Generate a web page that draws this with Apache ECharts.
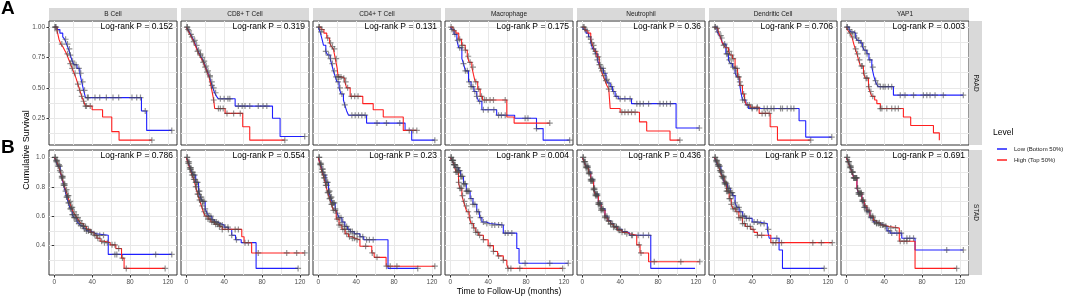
<!DOCTYPE html>
<html>
<head>
<meta charset="utf-8">
<script src="https://cdn.jsdelivr.net/npm/echarts@6/dist/echarts.min.js"></script>
<style>
  html, body { margin: 0; padding: 0; background: #fff; }
  #km { width: 1072px; height: 300px; }
</style>
</head>
<body>
<div id="km"></div>
<script>
// panel labels and p values
var cells = ['B Cell', 'CD8+ T Cell', 'CD4+ T Cell', 'Macrophage', 'Neutrophil', 'Dendritic Cell', 'YAP1'];
var paadP = ['0.152', '0.319', '0.131', '0.175', '0.36', '0.706', '0.003'];
var stadP = ['0.786', '0.554', '0.23', '0.004', '0.436', '0.12', '0.691'];
var levels = ['Low (Bottom 50%)', 'High (Top 50%)'];
var paadTicks = [0.25, 0.5, 0.75, 1];
var stadTicks = [0.4, 0.6, 0.8, 1];
var timeTicks = [0, 40, 80, 120];

// survival steps [months, survival], one curve per panel
var paadLow = [
  [[0,1],[3,0.98],[6,0.95],[9,0.92],[11,0.9],[13,0.86],[15,0.82],[17,0.77],[19,0.72],[21,0.69],[24,0.66],[27,0.62],[29,0.55],[31,0.48],[33,0.42],[92,0.31],[97.5,0.15],[124,0.15]],
  [[0,1],[2,0.98],[4,0.95],[6,0.92],[8,0.89],[10,0.85],[12,0.81],[14,0.78],[16,0.75],[18,0.72],[20,0.68],[22,0.64],[24,0.6],[26,0.55],[28,0.5],[30,0.46],[32,0.43],[34,0.41],[51.6,0.35],[91,0.25],[99,0.1],[125,0.1]],
  [[0,1],[2,0.96],[4,0.9],[5.6,0.85],[8,0.8],[10,0.77],[12.6,0.74],[14,0.7],[16,0.64],[18,0.59],[19.7,0.55],[22,0.5],[24,0.45],[26.6,0.4],[28,0.36],[30,0.31],[32,0.275],[51,0.21],[91.6,0.15],[98.6,0.07],[123,0.07]],
  [[0,1],[1.7,0.98],[4,0.94],[7,0.89],[9,0.83],[12.3,0.74],[14,0.7],[16,0.64],[19.3,0.55],[22,0.51],[25,0.47],[28,0.43],[30,0.39],[33.4,0.32],[49,0.275],[68,0.25],[91,0.165],[98,0.07],[126,0.07]],
  [[0,1],[1.4,0.98],[4,0.95],[6.6,0.92],[9,0.87],[11,0.82],[13.7,0.78],[16,0.73],[18,0.69],[20,0.66],[22.4,0.62],[25,0.57],[27,0.54],[29.5,0.51],[32,0.47],[34.7,0.43],[38,0.41],[52,0.37],[99,0.17],[123.5,0.17]],
  [[0,1],[3,0.96],[5,0.94],[7,0.91],[9,0.86],[12.3,0.78],[15,0.73],[17,0.7],[19.3,0.67],[22,0.62],[24,0.59],[26.3,0.55],[28,0.47],[29.8,0.4],[33.4,0.36],[36,0.33],[89.5,0.23],[96.5,0.095],[124,0.095]],
  [[0,1],[3,0.98],[5,0.96],[7.7,0.95],[10,0.91],[12,0.89],[14.7,0.87],[17,0.84],[19,0.81],[21.8,0.78],[24,0.73],[27,0.67],[29,0.6],[30.5,0.56],[32,0.53],[34,0.51],[49.8,0.44],[123.5,0.44]]
];
var paadHigh = [
  [[0,1],[3,0.97],[5,0.9],[7,0.86],[9,0.84],[11,0.81],[13,0.78],[15,0.74],[17,0.7],[19,0.66],[21,0.62],[23,0.58],[25,0.53],[27,0.48],[29,0.43],[31,0.39],[33,0.35],[40,0.32],[51,0.26],[60.7,0.14],[68.4,0.07],[103,0.07]],
  [[0,1],[2,0.97],[4,0.94],[6,0.91],[8,0.88],[10,0.84],[12,0.8],[14,0.77],[16,0.74],[18,0.71],[20,0.67],[22,0.63],[24,0.59],[26,0.52],[28,0.44],[29,0.4],[30,0.33],[41,0.29],[59.6,0.18],[67,0.07],[104,0.07]],
  [[0,1],[3,0.98],[6,0.95],[9,0.91],[12,0.87],[14,0.84],[16,0.82],[18,0.74],[20,0.66],[21,0.59],[25,0.58],[28,0.55],[30,0.5],[33.7,0.43],[47,0.37],[58,0.32],[68.6,0.26],[89.7,0.15],[104,0.15]],
  [[0,1],[3,0.97],[6,0.95],[9,0.9],[12,0.85],[15.8,0.81],[18,0.76],[20,0.71],[22.8,0.67],[24.5,0.61],[26.3,0.55],[29,0.49],[31.6,0.43],[34,0.4],[59.7,0.26],[67.4,0.21],[105,0.21]],
  [[0,1],[3,0.97],[6,0.95],[9,0.9],[11,0.85],[13,0.8],[15.4,0.755],[18,0.69],[20,0.64],[22,0.6],[24,0.56],[26,0.52],[28,0.49],[29.5,0.33],[40,0.3],[60.4,0.22],[68,0.145],[92.6,0.07],[103,0.07]],
  [[0,1],[2,0.99],[4,0.97],[6,0.93],[8,0.88],[10,0.85],[12,0.83],[15,0.8],[17,0.77],[19.3,0.74],[22,0.66],[24.6,0.59],[27,0.52],[29.8,0.45],[32,0.4],[34,0.36],[38,0.34],[47.4,0.29],[59,0.18],[66.7,0.07],[101.8,0.07]],
  [[0,1],[2,0.97],[4,0.95],[6,0.92],[8,0.86],[9.5,0.82],[11.3,0.78],[13,0.73],[15,0.68],[18.2,0.62],[20,0.58],[23.5,0.51],[25,0.47],[27,0.43],[30,0.4],[32.3,0.37],[36,0.33],[60.3,0.26],[68,0.19],[92,0.13],[98.2,0.07]]
];
var stadLow = [
  [[0,1],[2,0.97],[4,0.94],[6.3,0.9],[8,0.86],[10,0.81],[11.6,0.77],[13,0.73],[15,0.69],[16.8,0.65],[19,0.61],[21,0.59],[23.9,0.565],[26,0.55],[28,0.535],[30.9,0.515],[34,0.5],[38,0.49],[41.4,0.48],[44,0.47],[57,0.34],[124,0.34]],
  [[0,1],[2,0.97],[4,0.93],[6,0.9],[7.7,0.88],[10,0.83],[13,0.77],[15,0.73],[17,0.7],[20,0.65],[22,0.62],[24,0.6],[27,0.575],[30,0.56],[33,0.55],[35.8,0.54],[40,0.525],[44.5,0.51],[48,0.47],[52,0.44],[58,0.42],[73.7,0.245],[118,0.245]],
  [[0,1],[2,0.96],[4,0.92],[5.6,0.88],[8,0.83],[10.9,0.77],[13,0.73],[15,0.69],[17.9,0.65],[20,0.62],[22,0.59],[25,0.56],[28,0.53],[31,0.51],[33.7,0.495],[38,0.48],[44,0.46],[48,0.44],[73.6,0.245],[105,0.245]],
  [[0,1],[2,0.98],[4,0.95],[6,0.93],[8.8,0.91],[11,0.87],[14,0.82],[17,0.77],[21,0.72],[24,0.68],[28,0.63],[31,0.59],[33.4,0.56],[38,0.55],[42,0.54],[56,0.485],[70.2,0.38],[72.6,0.28],[124.5,0.28]],
  [[0,1],[2,0.97],[4,0.94],[6.7,0.9],[9,0.85],[12,0.79],[14,0.75],[17,0.69],[20,0.65],[24,0.6],[27,0.57],[30,0.55],[33,0.53],[37,0.51],[42,0.495],[47,0.485],[50,0.47],[72.3,0.245],[119,0.245]],
  [[0,1],[2,0.97],[4,0.94],[7,0.9],[9,0.86],[11,0.82],[14,0.79],[17,0.76],[19.3,0.74],[22,0.69],[24,0.66],[26.3,0.63],[30,0.6],[33.4,0.585],[40,0.56],[46,0.55],[56,0.51],[58,0.45],[68.4,0.37],[72,0.245],[116,0.245]],
  [[0,1],[2,0.97],[4,0.94],[6,0.9],[8,0.86],[11.3,0.79],[13,0.75],[16.5,0.7],[19,0.66],[21.8,0.63],[25,0.59],[28.7,0.56],[32,0.55],[36,0.54],[39.3,0.53],[43,0.5],[46.3,0.485],[58.6,0.45],[72.6,0.37],[123.5,0.37]]
];
var stadHigh = [
  [[0,1],[2,0.98],[4,0.95],[6,0.91],[8,0.87],[10,0.82],[12,0.78],[14,0.74],[16,0.7],[18,0.66],[20,0.63],[22,0.61],[24,0.59],[26,0.57],[28,0.55],[31,0.53],[34,0.51],[38,0.49],[42,0.47],[45,0.45],[48.4,0.43],[53,0.42],[59,0.405],[65,0.38],[71,0.315],[73.7,0.245],[117,0.245]],
  [[0,1],[2,0.96],[4,0.92],[6,0.88],[8,0.85],[10,0.8],[12,0.75],[14,0.71],[16,0.67],[18,0.63],[20,0.6],[23,0.58],[26,0.56],[30,0.545],[35,0.53],[38,0.51],[58.6,0.46],[61,0.42],[69,0.35],[125,0.35]],
  [[0,1],[2,0.95],[4,0.9],[6,0.86],[8,0.81],[10,0.76],[12,0.72],[14,0.68],[16,0.64],[19,0.58],[22,0.54],[25,0.51],[28.4,0.48],[32,0.46],[36,0.45],[39,0.44],[44,0.395],[56.5,0.35],[59,0.32],[71.6,0.26],[123,0.26]],
  [[0,1],[2,0.98],[4,0.95],[6,0.9],[8.8,0.83],[10,0.79],[12.3,0.74],[14,0.7],[15.5,0.67],[17.5,0.63],[20,0.59],[22,0.55],[24.5,0.52],[27,0.49],[30,0.47],[35,0.44],[40,0.4],[45.6,0.36],[50,0.33],[56,0.3],[59.7,0.27],[61,0.245],[118.6,0.245]],
  [[0,1],[2,0.97],[4,0.93],[6.7,0.89],[9,0.84],[12,0.78],[14,0.74],[17,0.68],[20,0.64],[24,0.59],[27,0.565],[30,0.545],[33,0.525],[37,0.505],[42,0.49],[47,0.48],[50,0.47],[57.5,0.405],[61,0.35],[70,0.29],[124,0.29]],
  [[0,1],[2,0.98],[4,0.95],[6,0.91],[8,0.87],[10.5,0.83],[13,0.77],[15.8,0.72],[18,0.68],[20,0.65],[22.8,0.63],[26,0.59],[29.8,0.55],[33,0.53],[38.6,0.51],[42,0.49],[45.6,0.47],[59.7,0.42],[124.5,0.42]],
  [[0,1],[2,0.97],[4,0.93],[6,0.9],[8,0.86],[11.3,0.79],[13,0.76],[16.5,0.71],[19,0.67],[21.8,0.64],[25,0.6],[28.7,0.57],[32,0.555],[36,0.54],[39.3,0.53],[45,0.52],[56,0.43],[72.6,0.245],[116.5,0.245]]
];

// censoring times (months)
var paadLowCens = [
  [1,2,12,14,16,17,19,21,23,26,28,30,32,35,36,43,48,55,62,68,82,87,91,96,124],
  [1,2,6,9,11,13,15,17,19,21,23,25,27,29,31,36,40,44,46,55,59,62,67,76,81,85,125],
  [1,3,8,11,13,15,17,19,21,23,25,28,35.5,39,42.5,46,49.5,62,72,86,123],
  [2,5,8,10,12,14,16,18,20,22,24,26,28,31,35,40,46,51,54,58,79,82,91,126],
  [1,3,7,10,12,14,16,18,20,22,24,26,28,31,33,36,40,45,50.5,57.6,61,64.5,70,82,85.6,89,93,123.5],
  [1,4,8,11,13,14,16,18,20,23,25,27,30,32,35,40,45,52.6,56,60,63,70,72,77,81,84,124],
  [1,3,6,9,11,13,16,18,20,22,25,28,31,33,36,39,41,44.5,48,57,62,71,81.4,85,88.4,93.7,102.4,123.5]
];
var paadHighCens = [
  [1,3,8,14,17,19,22,25,27,29,31,33,34,38,103],
  [1,3,5,8,12,15,18,20,22,25,27,29,34,36,39,43,50,57,104],
  [1,4,10,13,15,17,19,21,22,24,27,29,31,35,38.5,42,96,100,104],
  [1,4,10,13,16,19,21,24,27,30,33,36,38,42,45.6,58,105],
  [2,5,9,12,14,17,19,21,23,25,28,41.8,45,48.5,52,55.8,103],
  [1,3,7,10,13,16,18,20,22,24,26,28,31,37,40,45.5,50.5,54,58,101.8],
  [1,4,7,10,12,14,16,17,19,21,22,24,26,28,36,37.6,42.8,48,51.6,55]
];
var stadLowCens = [
  [1,2,3,4,5,6,7,8,9,10,11,12,13,14,15,16,17,18,19,20,21,22,23,24,26,28,30,32,34,36,39,42,45,48,52,64,66,107,124],
  [1,2,3,4,5,6,7,8,9,10,11,12,13,14,15,16,17,18,19,20,22,24,26,28,30,32,34,36,38,41,44,48,53,118],
  [1,2,3,4,5,6,7,8,9,10,11,12,13,14,15,16,17,18,20,22,24,26,28,30,32,34,36,38,41,44,47,51,54,58,105],
  [1,2,3,4,5,6,7,8,9,10,11,12,13,14,15,16,17,18,19,20,22,24,26,28,30,32,35,38.6,44,47,51,54.4,58,61,65,79,105,124.5],
  [1,2,3,4,5,6,7,8,9,10,11,12,13,14,15,16,17,18,19,20,21,22,24,26,28,30,32,34,36,38,40,45,52,59,64.4,70],
  [1,2,3,4,5,6,7,8,9,10,11,12,13,14,15,16,17,18,19,20,22,24,26,28,30,32,34,37,42,45.6,49,52.6,57,66,116],
  [1,2,3,4,5,6,7,8,9,10,11,12,13,14,15,16,17,18,19,20,22,24,26,28,30,32,34,36,39,41,44.5,48,53.4,58,64,67,71,106,123.5]
];
var stadHighCens = [
  [1,2,3,5,6,8,9,10,11,13,14,15,17,18,19,21,23,25,27,29,31,33,36,39,43,46,50,53,56,61,64,68,72,76,117],
  [1,2,3,4,5,6,7,8,9,10,11,12,13,14,15,17,19,21,23,25,27,29,31,33,35,38,44.5,51.6,55,62,65.6,76,106,116.5,125],
  [1,2,3,4,5,6,7,8,9,10,11,12,13,14,15,16,18,20,22,24,26,28,30,33,36,38,41,50,57,62,72,76,83,123],
  [1,2,3,4,5,6,7,8,9,10,11,12,13,15,17,19,21,23,25,27,29,31,35,42,45.6,51,56,61,64,73.4,118.6],
  [1,2,3,4,5,6,7,8,9,10,11,12,13,14,15,16,17,18,19,20,22,24,26,28,30,33,36,39,42,47,53,60,62,76,104,124],
  [1,2,3,4,5,6,7,8,9,10,11,12,13,14,15,16,17,18,20,22,24,26,28,30,32,35,38,41,45.6,50,62,65,71,104,113,124.5],
  [1,2,3,4,5,6,7,8,9,10,11,12,13,14,15,16,17,18,20,22,24,26,28,30,32,35,38,42,47,52,57,61,64,116.5]
];

var FONT = 'Liberation Sans, Arial, sans-serif';
var BLUE = '#1f1fff', RED = '#ff1f1f';
var PLUS = 'path://M4,0H6V4H10V6H6V10H4V6H0V4H4Z';

function stepAt(curve, t) {
  var v = curve[0][1];
  for (var k = 0; k < curve.length; k++) if (curve[k][0] <= t) v = curve[k][1];
  return v;
}

var rows = [
  {top: 21, height: 124, min: 0.03, max: 1.05, ticks: paadTicks, minor: [0.125,0.25,0.375,0.5,0.625,0.75,0.875,1],
   low: paadLow, high: paadHigh, lowC: paadLowCens, highC: paadHighCens, p: paadP, dec: 2, name: 'PAAD'},
  {top: 150, height: 125, min: 0.2, max: 1.05, ticks: stadTicks, minor: [0.3,0.4,0.5,0.6,0.7,0.8,0.9,1],
   low: stadLow, high: stadHigh, lowC: stadLowCens, highC: stadHighCens, p: stadP, dec: 1, name: 'STAD'}
];

var grids = [], xAxes = [], yAxes = [], series = [], graphics = [];
var xMin = -5.5, xMax = 129.5;

rows.forEach(function (row, r) {
  cells.forEach(function (cell, i) {
    var g = grids.length;
    var left = 49 + 132 * i;
    grids.push({left: left, top: row.top, width: 128, height: row.height,
      show: true, borderColor: '#333', borderWidth: 1, backgroundColor: '#fff'});
    xAxes.push({gridIndex: g, type: 'value', min: xMin, max: xMax,
      axisLine: {show: false}, axisLabel: {show: false},
      axisTick: {show: false, customValues: [0,20,40,60,80,100,120]},
      splitLine: {show: true, lineStyle: {color: '#e8e8e8', width: 1}}});
    yAxes.push({gridIndex: g, type: 'value', min: row.min, max: row.max,
      axisLine: {show: false}, axisLabel: {show: false},
      axisTick: {show: false, customValues: row.minor},
      splitLine: {show: true, lineStyle: {color: '#e8e8e8', width: 1}}});

    [[row.low[i], BLUE, levels[0]], [row.high[i], RED, levels[1]]].forEach(function (c) {
      series.push({type: 'line', name: c[2], step: 'end', xAxisIndex: g, yAxisIndex: g,
        data: c[0], showSymbol: false, silent: true, animation: false,
        lineStyle: {color: c[1], width: 1.1}, itemStyle: {color: c[1]}, z: 2});
    });
    [[row.low[i], row.lowC[i]], [row.high[i], row.highC[i]]].forEach(function (c) {
      series.push({type: 'scatter', xAxisIndex: g, yAxisIndex: g, silent: true, animation: false,
        data: c[1].map(function (t) { return [t, stepAt(c[0], t)]; }),
        symbol: PLUS, symbolSize: 6, itemStyle: {color: 'rgba(75,75,75,0.75)'}, z: 3});
    });

    graphics.push({type: 'text', x: left + 124, y: row.top + 6, z: 10,
      style: {text: 'Log-rank P = ' + row.p[i], font: '8.5px ' + FONT, fill: '#000', align: 'right', verticalAlign: 'middle'}});
    if (r === 0) {
      graphics.push({type: 'rect', shape: {x: left, y: 8, width: 128, height: 12}, style: {fill: '#d9d9d9'}});
      graphics.push({type: 'text', x: left + 64, y: 14.5,
        style: {text: cell, font: '6.5px ' + FONT, fill: '#1a1a1a', align: 'center', verticalAlign: 'middle'}});
    }
  });
  // side strip
  graphics.push({type: 'rect', shape: {x: 969, y: row.top, width: 13, height: row.height}, style: {fill: '#d9d9d9'}});
  graphics.push({type: 'text', x: 975.5, y: row.top + row.height / 2, rotation: -Math.PI / 2,
    style: {text: row.name, font: '6.5px ' + FONT, fill: '#1a1a1a', align: 'center', verticalAlign: 'middle'}});
});

// visible tick labels: left column and bottom row only
rows.forEach(function (row, r) {
  yAxes.push({gridIndex: r * 7, type: 'value', min: row.min, max: row.max, position: 'left',
    axisLine: {show: false}, splitLine: {show: false},
    axisTick: {show: true, length: 2.5, customValues: row.ticks, lineStyle: {color: '#333'}},
    axisLabel: {show: true, customValues: row.ticks, margin: 4, fontSize: 6.5, fontFamily: FONT, color: '#4d4d4d',
      formatter: function (v) { return Number(v).toFixed(row.dec); }}});
});
cells.forEach(function (cell, i) {
  xAxes.push({gridIndex: 7 + i, type: 'value', min: xMin, max: xMax, position: 'bottom',
    axisLine: {show: false}, splitLine: {show: false},
    axisTick: {show: true, length: 2.5, customValues: timeTicks, lineStyle: {color: '#333'}},
    axisLabel: {show: true, customValues: timeTicks, margin: 4, fontSize: 6.5, fontFamily: FONT, color: '#4d4d4d'}});
});

graphics.push(
  {type: 'text', x: 1, y: 9, style: {text: 'A', font: 'bold 19px ' + FONT, fill: '#000', align: 'left', verticalAlign: 'middle'}},
  {type: 'text', x: 1, y: 148, style: {text: 'B', font: 'bold 19px ' + FONT, fill: '#000', align: 'left', verticalAlign: 'middle'}},
  {type: 'text', x: 27, y: 150, rotation: Math.PI / 2,
    style: {text: 'Cumulative Survival', font: '9px ' + FONT, fill: '#000', align: 'center', verticalAlign: 'middle'}},
  {type: 'text', x: 509, y: 292,
    style: {text: 'Time to Follow-Up (months)', font: '8.5px ' + FONT, fill: '#000', align: 'center', verticalAlign: 'middle'}},
  {type: 'text', x: 993, y: 133,
    style: {text: 'Level', font: '8.5px ' + FONT, fill: '#000', align: 'left', verticalAlign: 'middle'}}
);

var chart = echarts.init(document.getElementById('km'));
chart.setOption({
  animation: false,
  backgroundColor: '#fff',
  grid: grids,
  xAxis: xAxes,
  yAxis: yAxes,
  legend: {
    data: [{name: levels[0], icon: 'rect'}, {name: levels[1], icon: 'rect'}],
    orient: 'vertical', left: 992, top: 141, itemWidth: 10, itemHeight: 1.5, itemGap: 5,
    selectedMode: false,
    textStyle: {fontSize: 6, fontFamily: FONT, color: '#1a1a1a', padding: [0, 0, 0, 2]}
  },
  series: series,
  graphic: graphics
});
</script>
</body>
</html>
